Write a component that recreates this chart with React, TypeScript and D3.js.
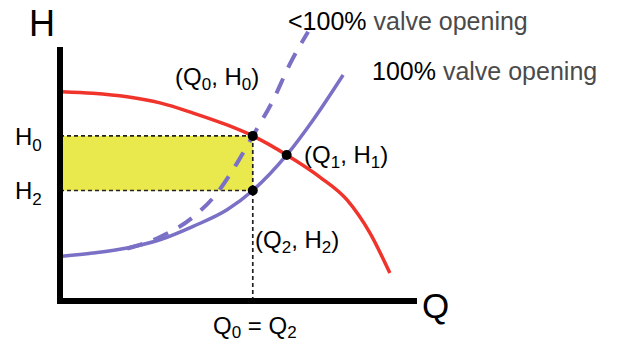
import React from "react";
import * as d3 from "d3";

// Pump curve (red), system curves (blue) in chart units: [Q, H]
const pumpCurve: [number, number][] = [
  [0.5, 82.4], [9.2, 81.8], [18.8, 80.4], [28, 78], [37.3, 74], [46.8, 69.3],
  [54, 65], [63.5, 57.5], [72.8, 48.8], [80.4, 39.8], [86.8, 26.8], [92.4, 11],
];
const systemFull: [number, number][] = [
  [0.5, 17.6], [9.2, 18.9], [18.8, 20.9], [28, 24.1], [37.3, 29.4], [46.8, 35.9],
  [54, 43.5], [63.5, 57.5], [70.9, 71.3], [79.3, 89],
];
const systemPartial: [number, number][] = [
  [18.8, 20.6], [28, 25.2], [37.3, 33.1], [44, 42.5], [49.6, 54.3], [54, 65],
  [59.7, 79.1], [64.4, 93.3], [69.5, 106],
];
const Q0 = 54;
const H0 = 65;
const H2 = 43.5;
const Q1 = 63.5;
const H1 = 57.5;

const W = 620;
const H = 349;

export default function App() {
  const x = d3.scaleLinear().domain([0, 100]).range([60, 417]);
  const y = d3.scaleLinear().domain([0, 100]).range([301, 47]);
  const line = d3
    .line<[number, number]>()
    .x((d) => x(d[0]))
    .y((d) => y(d[1]))
    .curve(d3.curveMonotoneX);

  const font = "'Liberation Sans', Arial, sans-serif";
  const blue = "#7a70c6";
  const red = "#f0332b";
  const sub = 17;

  return (
    <svg
      width={W}
      height={H}
      style={{ position: "absolute", left: 0, top: 0, display: "block" }}
      fontFamily={font}
    >
      <rect width={W} height={H} fill="#fff" />
      {/* yellow band */}
      <rect
        x={x(0)}
        y={y(H0)}
        width={x(Q0) - x(0)}
        height={y(H2) - y(H0)}
        fill="#e9e84c"
      />
      {/* guides */}
      <g stroke="#222" strokeWidth={1.7} strokeDasharray="4 3" fill="none">
        <line x1={x(0)} x2={x(Q0)} y1={y(H0)} y2={y(H0)} />
        <line x1={x(0)} x2={x(Q0)} y1={y(H2)} y2={y(H2)} />
        <line x1={x(Q0)} x2={x(Q0)} y1={y(H0)} y2={y(0)} />
      </g>
      {/* curves */}
      <path d={line(systemFull) || ""} fill="none" stroke={blue} strokeWidth={3.5} />
      <path
        d={line(systemPartial) || ""}
        fill="none"
        stroke={blue}
        strokeWidth={4}
        strokeDasharray="16 12"
      />
      <path d={line(pumpCurve) || ""} fill="none" stroke={red} strokeWidth={3.5} />
      {/* axes */}
      <line x1={x(0)} x2={x(0)} y1={y(100)} y2={y(0) + 3} stroke="#000" strokeWidth={6} />
      <line x1={x(0) - 3} x2={x(100)} y1={y(0)} y2={y(0)} stroke="#000" strokeWidth={6} />
      {/* points */}
      <circle cx={x(Q0)} cy={y(H0)} r={5} fill="#000" />
      <circle cx={x(Q0)} cy={y(H2)} r={5} fill="#000" />
      <circle cx={x(Q1)} cy={y(H1)} r={5} fill="#000" />
      {/* axis titles */}
      <text x={29} y={36} fontSize={36} fill="#000">H</text>
      <text x={422} y={318} fontSize={35} fill="#000">Q</text>
      {/* labels */}
      <text x={15} y={145} fontSize={24} fill="#000">
        H<tspan fontSize={sub} dy={6}>0</tspan>
      </text>
      <text x={15} y={199} fontSize={24} fill="#000">
        H<tspan fontSize={sub} dy={6}>2</tspan>
      </text>
      <text x={175} y={85} fontSize={24} fill="#000">
        (Q<tspan fontSize={sub} dy={5}>0</tspan>
        <tspan dy={-5}>, H</tspan>
        <tspan fontSize={sub} dy={5}>0</tspan>
        <tspan dy={-5}>)</tspan>
      </text>
      <text x={304} y={163} fontSize={24} fill="#000">
        (Q<tspan fontSize={sub} dy={5}>1</tspan>
        <tspan dy={-5}>, H</tspan>
        <tspan fontSize={sub} dy={5}>1</tspan>
        <tspan dy={-5}>)</tspan>
      </text>
      <text x={255} y={248} fontSize={24} fill="#000">
        (Q<tspan fontSize={sub} dy={5}>2</tspan>
        <tspan dy={-5}>, H</tspan>
        <tspan fontSize={sub} dy={5}>2</tspan>
        <tspan dy={-5}>)</tspan>
      </text>
      <text x={213} y={334} fontSize={24} fill="#000">
        Q<tspan fontSize={sub} dy={4}>0</tspan>
        <tspan dy={-4}> = Q</tspan>
        <tspan fontSize={sub} dy={4}>2</tspan>
      </text>
      <text x={288} y={30} fontSize={25} fill="#000">
        &lt;100%<tspan fill="#4a4a4a"> valve opening</tspan>
      </text>
      <text x={372} y={80} fontSize={25} fill="#000">
        100%<tspan fill="#4a4a4a"> valve opening</tspan>
      </text>
    </svg>
  );
}
